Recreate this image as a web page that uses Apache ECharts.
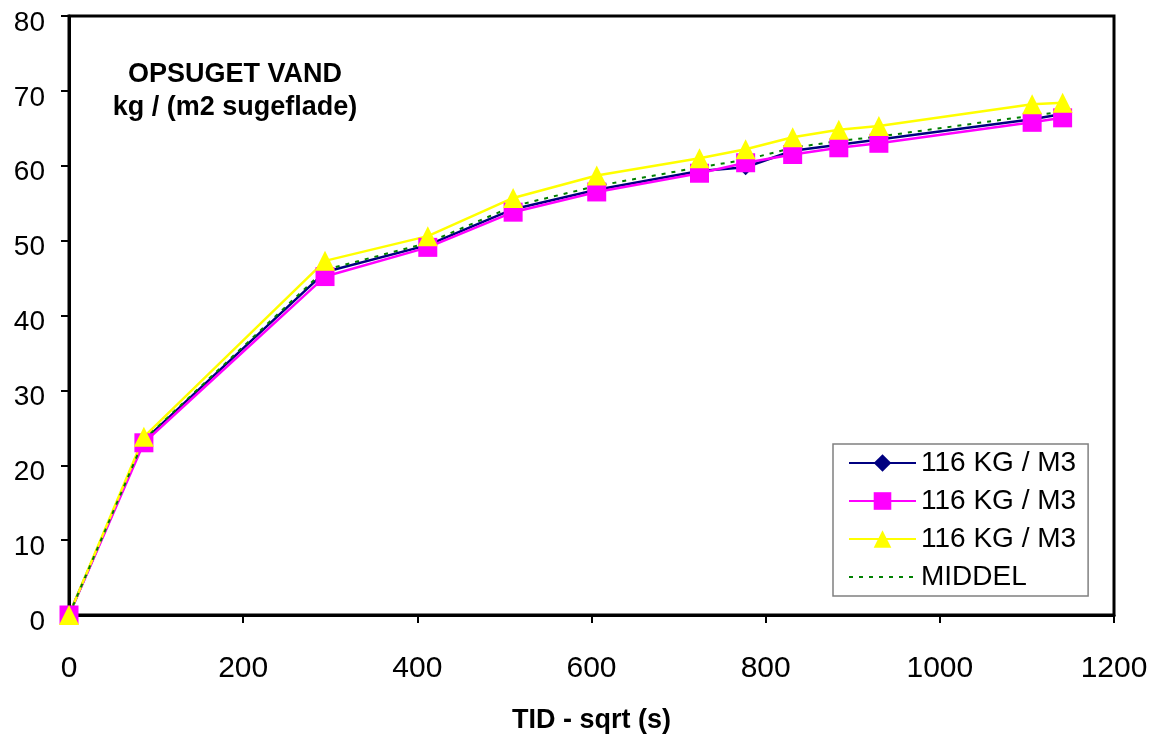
<!DOCTYPE html>
<html><head><meta charset="utf-8">
<script src="https://cdn.jsdelivr.net/npm/echarts@6/dist/echarts.min.js"></script>
<style>html,body{margin:0;padding:0;background:#fff}#c{width:1157px;height:736px}</style>
</head><body><div id="c"></div>
<script>
const xValues = [0, 86, 294, 412, 510, 606, 724, 777, 831, 884, 930, 1106, 1141];
const seriesBlue = [0, 23.3, 45.8, 49.4, 54.2, 56.8, 59.3, 59.8, 62.0, 62.8, 63.5, 66.2, 66.9];
const seriesPink = [0, 23.0, 45.2, 49.1, 53.8, 56.5, 59.0, 60.4, 61.5, 62.4, 63.0, 65.8, 66.4];
const seriesYellow = [0, 23.8, 47.3, 50.6, 55.7, 58.7, 61.0, 62.2, 63.8, 64.8, 65.3, 68.2, 68.4];
const seriesMiddel = [0, 23.4, 46.1, 49.7, 54.6, 57.3, 59.8, 60.8, 62.4, 63.3, 63.9, 66.7, 67.2];
const seriesNames = ['116 KG / M3', '116 KG / M3 ', '116 KG / M3  ', 'MIDDEL'];
const xTicks = [0, 200, 400, 600, 800, 1000, 1200];
const yTicks = [0, 10, 20, 30, 40, 50, 60, 70, 80];
const titleLines = ['OPSUGET VAND', 'kg / (m2 sugeflade)'];
const xAxisTitle = 'TID - sqrt (s)';

const pair = (ys) => xValues.map((x, i) => [x, ys[i]]);
const FONT = 'Liberation Sans, Arial, sans-serif';

const chart = echarts.init(document.getElementById('c'), null, {renderer: 'canvas'});
chart.setOption({
  backgroundColor: '#fff',
  animation: false,
  textStyle: {fontFamily: FONT, color: '#000'},
  graphic: [
    {type: 'text', x: 235, y: 75, style: {text: titleLines[0], x: 0, y: 0, align: 'center', verticalAlign: 'middle',
      font: 'bold 27px ' + FONT, fill: '#000'}},
    {type: 'text', x: 235, y: 108, style: {text: titleLines[1], x: 0, y: 0, align: 'center', verticalAlign: 'middle',
      font: 'bold 27px ' + FONT, fill: '#000'}}
  ],
  grid: {left: 69, right: 43, top: 16, bottom: 121, outerBoundsMode: 'none', containLabel: false,
    show: true, borderColor: '#000', borderWidth: 3, backgroundColor: 'transparent'},
  xAxis: {
    type: 'value', min: xTicks[0], max: xTicks[xTicks.length - 1], interval: 200,
    name: xAxisTitle, nameLocation: 'middle', nameGap: 92,
    nameTextStyle: {fontFamily: FONT, fontSize: 27, fontWeight: 'bold', color: '#000'},
    axisLine: {show: true, onZero: false, lineStyle: {color: '#000', width: 3}},
    axisTick: {show: true, inside: false, length: 8, lineStyle: {color: '#000', width: 2}},
    axisLabel: {fontFamily: FONT, fontSize: 30, color: '#000', margin: 39, formatter: (v) => String(v)},
    splitLine: {show: false}
  },
  yAxis: {
    type: 'value', min: yTicks[0], max: yTicks[yTicks.length - 1], interval: 10,
    axisLine: {show: true, onZero: false, lineStyle: {color: '#000', width: 3}},
    axisTick: {show: true, inside: false, length: 8, lineStyle: {color: '#000', width: 2}},
    axisLabel: {fontFamily: FONT, fontSize: 28, color: '#000', margin: 24, verticalAlign: 'top', lineHeight: 14},
    splitLine: {show: false}
  },
  legend: {
    orient: 'vertical', left: 833, top: 444,
    padding: [5, 12, 5, 15], itemGap: 10, itemWidth: 67, itemHeight: 22,
    backgroundColor: '#fff', borderColor: '#808080', borderWidth: 1.5,
    textStyle: {fontFamily: FONT, fontSize: 28, color: '#000'},
    formatter: (n) => n.trim(),
    data: [seriesNames[0], seriesNames[1], seriesNames[2],
      {name: seriesNames[3], itemStyle: {color: 'transparent', borderWidth: 0, opacity: 0}}]
  },
  series: [
    {name: seriesNames[0], type: 'line', data: pair(seriesBlue), symbol: 'diamond', symbolSize: 16,
     lineStyle: {color: '#000080', width: 2.5}, itemStyle: {color: '#000080'}},
    {name: seriesNames[1], type: 'line', data: pair(seriesPink), symbol: 'rect', symbolSize: 19,
     lineStyle: {color: '#FF00FF', width: 2.5}, itemStyle: {color: '#FF00FF'}},
    {name: seriesNames[2], type: 'line', data: pair(seriesYellow), symbol: 'triangle', symbolSize: 20,
     lineStyle: {color: '#FFFF00', width: 2.5}, itemStyle: {color: '#FFFF00'}},
    {name: seriesNames[3], type: 'line', data: pair(seriesMiddel), symbol: 'none', showSymbol: false,
     lineStyle: {color: '#008000', width: 2, type: [4, 6]}, itemStyle: {color: '#008000'}}
  ]
});
</script></body></html>
